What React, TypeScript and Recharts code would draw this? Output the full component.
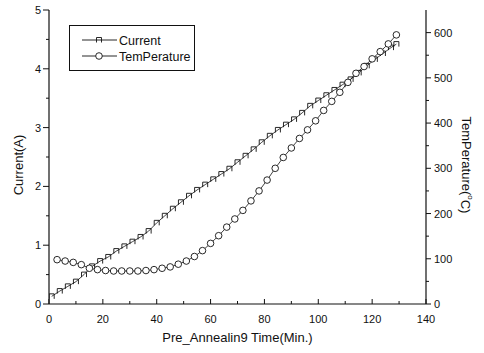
import React from "react";
import { LineChart, Line, XAxis, YAxis, Legend } from "recharts";

// Pré-recuit : courant (axe gauche) et température (axe droit) en fonction du temps.

const tempTime = [3, 6, 9, 12, 15, 18, 21, 24, 27, 30, 33, 36, 39, 42, 45, 48, 51, 54, 57, 60, 63, 66, 69, 72, 75, 78, 81, 84, 87, 90, 93, 96, 99, 102, 105, 108, 111, 114, 117, 120, 123, 126, 129];
const tempValues = [98, 95, 92, 87, 79, 76, 74, 73, 73, 73, 73, 74, 76, 79, 82, 88, 95, 105, 118, 134, 151, 170, 188, 207, 228, 250, 274, 300, 324, 345, 366, 385, 405, 428, 448, 468, 490, 510, 525, 542, 558, 575, 595];

const currentTime = [1, 4, 7, 10, 13, 16, 19, 22, 25, 28, 31, 34, 37, 40, 43, 46, 49, 52, 55, 58, 61, 64, 67, 70, 73, 76, 79, 82, 85, 88, 91, 94, 97, 100, 103, 106, 109, 112, 115, 118, 121, 124, 127, 129];
const currentValues = [0.13, 0.22, 0.3, 0.38, 0.5, 0.64, 0.73, 0.8, 0.9, 0.98, 1.06, 1.14, 1.24, 1.38, 1.5, 1.62, 1.73, 1.84, 1.94, 2.03, 2.12, 2.21, 2.3, 2.41, 2.52, 2.63, 2.75, 2.86, 2.96, 3.05, 3.14, 3.25, 3.37, 3.46, 3.55, 3.64, 3.73, 3.82, 3.93, 4.05, 4.16, 4.26, 4.36, 4.42];

const xTicks = [0, 10, 20, 30, 40, 50, 60, 70, 80, 90, 100, 110, 120, 130, 140];
const currentTicks = [0, 0.5, 1, 1.5, 2, 2.5, 3, 3.5, 4, 4.5, 5];
const tempTicks = [0, 50, 100, 150, 200, 250, 300, 350, 400, 450, 500, 550, 600];

const currentData = currentTime.map((t, i) => ({ time: t, current: currentValues[i] }));
const tempData = tempTime.map((t, i) => ({ time: t, temperature: tempValues[i] }));

const FONT = "'Liberation Sans', Arial, Helvetica, sans-serif";
const INK = "#111";

function BottomTick({ x, y, payload }: any) {
  const v = payload.value;
  const major = v % 20 === 0;
  return (
    <g>
      <line x1={x} x2={x} y1={y} y2={y - (major ? 5 : 3)} stroke={INK} />
      {major && (
        <text x={x} y={y + 19} textAnchor="middle" fontSize={11} fontFamily={FONT} fill={INK}>
          {v}
        </text>
      )}
    </g>
  );
}

function TopTick({ x, y, payload }: any) {
  const major = payload.value % 20 === 0;
  return <line x1={x} x2={x} y1={y} y2={y + (major ? 5 : 3)} stroke={INK} />;
}

function LeftTick({ x, y, payload }: any) {
  const v = payload.value;
  const major = Number.isInteger(v);
  return (
    <g>
      <line x1={x} x2={x - (major ? 6 : 3)} y1={y} y2={y} stroke={INK} />
      {major && (
        <text x={x - 8} y={y + 4} textAnchor="end" fontSize={11} fontFamily={FONT} fill={INK}>
          {v}
        </text>
      )}
    </g>
  );
}

function RightTick({ x, y, payload }: any) {
  const v = payload.value;
  const major = v % 100 === 0;
  return (
    <g>
      <line x1={x} x2={x + (major ? 5 : 3)} y1={y} y2={y} stroke={INK} />
      {major && (
        <text x={x + 8} y={y + 4} textAnchor="start" fontSize={11} fontFamily={FONT} fill={INK}>
          {v}
        </text>
      )}
    </g>
  );
}

function CurrentMark({ cx, cy }: any) {
  if (cx == null || cy == null) return null;
  return (
    <path
      d={`M${cx - 2.5},${cy + 2.5} V${cy - 2.5} H${cx + 2.5} V${cy + 2.5}`}
      fill="none"
      stroke={INK}
      strokeWidth={0.9}
    />
  );
}

function TempMark({ cx, cy }: any) {
  if (cx == null || cy == null) return null;
  return <circle cx={cx} cy={cy} r={3.3} fill="#fff" stroke={INK} strokeWidth={0.9} />;
}

function XTitle({ viewBox }: any) {
  const cx = viewBox.x + viewBox.width / 2;
  return (
    <text x={cx} y={viewBox.y + 38} textAnchor="middle" fontSize={13} fontFamily={FONT} fill={INK}>
      Pre_Annealin9 Time(Min.)
    </text>
  );
}

function LeftTitle({ viewBox }: any) {
  const cx = viewBox.x + 18;
  const cy = viewBox.y + viewBox.height / 2 + 8;
  return (
    <text
      x={cx}
      y={cy}
      transform={`rotate(-90, ${cx}, ${cy})`}
      textAnchor="middle"
      dominantBaseline="central"
      fontSize={13}
      fontFamily={FONT}
      fill={INK}
    >
      Current(A)
    </text>
  );
}

function RightTitle({ viewBox }: any) {
  const cx = viewBox.x + 40;
  const cy = viewBox.y + viewBox.height / 2 + 8;
  return (
    <text
      x={cx}
      y={cy}
      transform={`rotate(90, ${cx}, ${cy})`}
      textAnchor="middle"
      dominantBaseline="central"
      fontSize={13}
      fontFamily={FONT}
      fill={INK}
    >
      TemPerature(
      <tspan fontSize={8} dy={-5}>
        o
      </tspan>
      <tspan dy={5}>C)</tspan>
    </text>
  );
}

function LegendBox() {
  return (
    <svg width={127} height={47} style={{ display: "block" }}>
      <rect x={0.5} y={0.5} width={125} height={45} fill="#fff" stroke={INK} strokeWidth={1} />
      <line x1={13} x2={48} y1={15} y2={15} stroke={INK} strokeWidth={0.9} />
      <CurrentMark cx={30} cy={15} />
      <text x={50} y={19.5} fontSize={12.5} fontFamily={FONT} fill={INK}>
        Current
      </text>
      <line x1={13} x2={48} y1={31} y2={31} stroke={INK} strokeWidth={0.9} />
      <TempMark cx={30} cy={31} />
      <text x={50} y={35.5} fontSize={12.5} fontFamily={FONT} fill={INK}>
        TemPerature
      </text>
    </svg>
  );
}

export default function App() {
  return (
    <div style={{ position: "absolute", left: 0, top: 0, background: "#fff" }}>
      <LineChart width={484} height={353} margin={{ top: 10, right: 0, bottom: 0, left: 0 }}>
        <XAxis
          xAxisId="bottom"
          type="number"
          dataKey="time"
          domain={[0, 140]}
          ticks={xTicks}
          interval={0}
          height={49}
          tickSize={0}
          tickMargin={0}
          tickLine={false}
          tick={<BottomTick />}
          axisLine={{ stroke: INK, strokeWidth: 1.2 }}
          allowDataOverflow
          label={XTitle}
        />
        <XAxis
          xAxisId="top"
          orientation="top"
          type="number"
          dataKey="time"
          domain={[0, 140]}
          ticks={xTicks}
          interval={0}
          height={0}
          tickSize={0}
          tickMargin={0}
          tickLine={false}
          tick={<TopTick />}
          axisLine={{ stroke: INK, strokeWidth: 1.2 }}
          allowDataOverflow
        />
        <YAxis
          yAxisId="left"
          type="number"
          domain={[0, 5]}
          ticks={currentTicks}
          interval={0}
          width={49}
          tickSize={0}
          tickMargin={0}
          tickLine={false}
          tick={<LeftTick />}
          axisLine={{ stroke: INK, strokeWidth: 1.2 }}
          allowDataOverflow
          label={LeftTitle}
        />
        <YAxis
          yAxisId="right"
          orientation="right"
          type="number"
          domain={[0, 650]}
          ticks={tempTicks}
          interval={0}
          width={58}
          tickSize={0}
          tickMargin={0}
          tickLine={false}
          tick={<RightTick />}
          axisLine={{ stroke: INK, strokeWidth: 1.2 }}
          allowDataOverflow
          label={RightTitle}
        />
        <Legend
          layout="vertical"
          align="center"
          verticalAlign="middle"
          content={() => <LegendBox />}
          wrapperStyle={{ position: "absolute", left: 69, top: 25, width: 127, height: 47 }}
        />
        <Line
          data={currentData}
          xAxisId="bottom"
          yAxisId="left"
          dataKey="current"
          name="Current"
          type="linear"
          stroke={INK}
          strokeWidth={0.8}
          dot={<CurrentMark />}
          activeDot={false}
          isAnimationActive={false}
        />
        <Line
          data={tempData}
          xAxisId="bottom"
          yAxisId="right"
          dataKey="temperature"
          name="TemPerature"
          type="linear"
          stroke={INK}
          strokeWidth={0.8}
          dot={<TempMark />}
          activeDot={false}
          isAnimationActive={false}
        />
      </LineChart>
    </div>
  );
}
